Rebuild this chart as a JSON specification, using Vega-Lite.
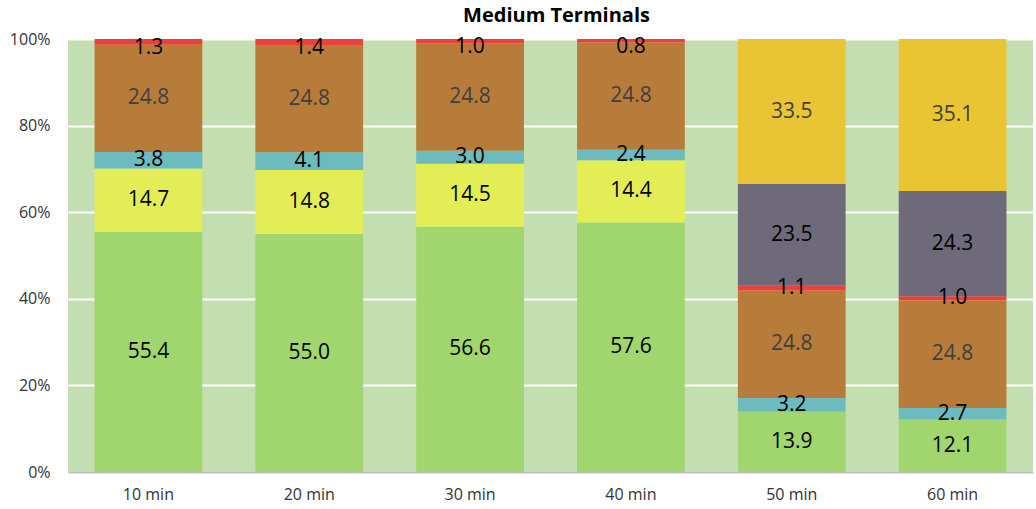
{
  "$schema": "https://vega.github.io/schema/vega-lite/v6.json",
  "width": 965,
  "height": 433,
  "autosize": {"type": "none"},
  "padding": {"left": 68, "top": 39, "right": 3, "bottom": 37},
  "title": {"text": "Medium Terminals", "fontSize": 20, "fontWeight": "bold", "font": "Open Sans", "color": "#000000", "anchor": "middle", "frame": "group", "baseline": "alphabetic", "offset": -11, "dx": 6},
  "config": {"view": {"fill": "#C3DFB1", "stroke": null}, "font": "Open Sans"},
  "data": {"values": [
    {"cat": "10 min", "series": "s1", "value": 55.4},
    {"cat": "10 min", "series": "s2", "value": 14.7},
    {"cat": "10 min", "series": "s3", "value": 3.8},
    {"cat": "10 min", "series": "s4", "value": 24.8},
    {"cat": "10 min", "series": "s5", "value": 1.3},
    {"cat": "20 min", "series": "s1", "value": 55.0},
    {"cat": "20 min", "series": "s2", "value": 14.8},
    {"cat": "20 min", "series": "s3", "value": 4.1},
    {"cat": "20 min", "series": "s4", "value": 24.8},
    {"cat": "20 min", "series": "s5", "value": 1.4},
    {"cat": "30 min", "series": "s1", "value": 56.6},
    {"cat": "30 min", "series": "s2", "value": 14.5},
    {"cat": "30 min", "series": "s3", "value": 3.0},
    {"cat": "30 min", "series": "s4", "value": 24.8},
    {"cat": "30 min", "series": "s5", "value": 1.0},
    {"cat": "40 min", "series": "s1", "value": 57.6},
    {"cat": "40 min", "series": "s2", "value": 14.4},
    {"cat": "40 min", "series": "s3", "value": 2.4},
    {"cat": "40 min", "series": "s4", "value": 24.8},
    {"cat": "40 min", "series": "s5", "value": 0.8},
    {"cat": "50 min", "series": "s1", "value": 13.9},
    {"cat": "50 min", "series": "s3", "value": 3.2},
    {"cat": "50 min", "series": "s4", "value": 24.8},
    {"cat": "50 min", "series": "s5", "value": 1.1},
    {"cat": "50 min", "series": "s6", "value": 23.5},
    {"cat": "50 min", "series": "s7", "value": 33.5},
    {"cat": "60 min", "series": "s1", "value": 12.1},
    {"cat": "60 min", "series": "s3", "value": 2.7},
    {"cat": "60 min", "series": "s4", "value": 24.8},
    {"cat": "60 min", "series": "s5", "value": 1.0},
    {"cat": "60 min", "series": "s6", "value": 24.3},
    {"cat": "60 min", "series": "s7", "value": 35.1}
  ]},
  "encoding": {
    "x": {"field": "cat", "type": "nominal", "scale": {"paddingInner": 0.33, "paddingOuter": 0.165},
      "axis": {"title": null, "labelAngle": 0, "ticks": false, "domainColor": "#BFBFBF", "domainWidth": 2, "labelFontSize": 16, "labelPadding": 14, "labelColor": "#333333", "labelFont": "Open Sans"}}
  },
  "layer": [
    {
      "mark": {"type": "bar"},
      "encoding": {
        "y": {"field": "value", "type": "quantitative", "stack": "normalize",
          "axis": {"title": null, "values": [0, 0.2, 0.4, 0.6, 0.8, 1], "format": ".0%", "ticks": false, "domain": false, "gridColor": "#FFFFFF", "gridWidth": 2, "gridOpacity": 1, "labelFontSize": 16, "labelPadding": 18, "labelColor": "#333333", "labelFont": "Open Sans"}},
        "color": {"field": "series", "type": "nominal", "legend": null,
          "scale": {"domain": ["s1", "s2", "s3", "s4", "s5", "s6", "s7"], "range": ["#A1D56D", "#E3EE57", "#6BBBBF", "#B87C3A", "#EE403A", "#6F6A79", "#EAC533"]}},
        "order": {"field": "series", "sort": "ascending"}
      }
    },
    {
      "transform": [
        {"stack": "value", "groupby": ["cat"], "sort": [{"field": "series", "order": "ascending"}], "offset": "normalize", "as": ["y0", "y1"]},
        {"fold": ["y0", "y1"], "as": ["k", "v"]},
        {"aggregate": [{"op": "mean", "field": "v", "as": "mid"}], "groupby": ["cat", "series", "value"]},
        {"filter": "!(datum.series === 's5' && datum.cat !== '50 min' && datum.cat !== '60 min')"}
      ],
      "mark": {"type": "text", "fontSize": 21, "font": "Open Sans", "baseline": "middle", "align": "center"},
      "encoding": {
        "y": {"field": "mid", "type": "quantitative", "axis": {"title": null}},
        "text": {"field": "value", "type": "quantitative", "format": ".1f"},
        "color": {"condition": {"test": "datum.series === 's4' || datum.series === 's7'", "value": "#404040"}, "value": "#000000"}
      }
    },
    {
      "transform": [
        {"stack": "value", "groupby": ["cat"], "sort": [{"field": "series", "order": "ascending"}], "offset": "normalize", "as": ["y0", "y1"]},
        {"fold": ["y0", "y1"], "as": ["k", "v"]},
        {"aggregate": [{"op": "mean", "field": "v", "as": "mid"}], "groupby": ["cat", "series", "value"]},
        {"filter": "datum.series === 's5' && datum.cat !== '50 min' && datum.cat !== '60 min'"}
      ],
      "mark": {"type": "text", "fontSize": 21, "font": "Open Sans", "baseline": "middle", "align": "center", "dy": 6},
      "encoding": {
        "y": {"field": "mid", "type": "quantitative", "axis": {"title": null}},
        "text": {"field": "value", "type": "quantitative", "format": ".1f"},
        "color": {"value": "#000000"}
      }
    }
  ]
}
